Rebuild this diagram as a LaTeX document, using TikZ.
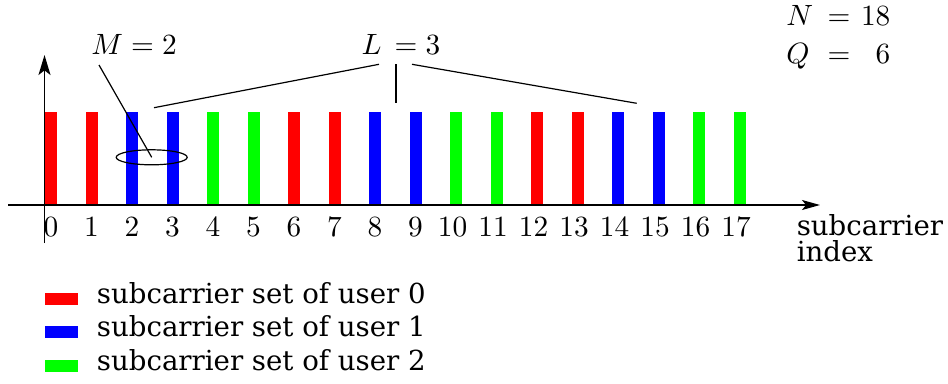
\documentclass[tikz,border=0pt]{standalone}
\usepackage{fontspec}
\usepackage{graphicx}
\newfontfamily\labelfont{DejaVu Serif}
\usetikzlibrary{arrows.meta,shapes.geometric}
\definecolor{userA}{RGB}{255,0,0}
\definecolor{userB}{RGB}{0,0,255}
\definecolor{userC}{RGB}{0,255,0}
% 10pt design size, enlarged, for the heavier strokes of the labels
\newcommand{\numtxt}[1]{\scalebox{2.2}{#1}}
\newcommand{\eqrow}[2]{\makebox[13pt][l]{$#1$}\makebox[9.9pt][c]{$=$}\makebox[12.6pt][r]{$#2$}}
\begin{document}
\begin{tikzpicture}[x=0.75pt,y=-0.75pt,
  axis/.style={line width=1pt},
  leader/.style={line width=0.9pt},
  num/.style={font=\fontsize{10}{12}\selectfont, inner sep=0pt},
  words/.style={font=\labelfont\fontsize{20.7}{20}\selectfont, inner sep=0pt},
  swatch/.style={fill=#1, draw=none}]
\useasboundingbox (0,0) rectangle (948,383);

% subcarrier bars with their index labels
\foreach \i/\c in {0/userA,1/userA,2/userB,3/userB,4/userC,5/userC,
                   6/userA,7/userA,8/userB,9/userB,10/userC,11/userC,
                   12/userA,13/userA,14/userB,15/userB,16/userC,17/userC}{
  \fill[\c] ({45+40.5*\i},112) rectangle ++(12,93);
  \pgfmathsetmacro{\shift}{ifthenelse(\i>9,-3.5,0)}
  \node[num, anchor=base] (n\i) at ({51+40.5*\i+\shift},236) {\numtxt{$\i$}};
}

% axes
\coordinate (xs) at (8,205);
\coordinate (xe) at (820,205);
\coordinate (ys) at (44.5,243);
\coordinate (ye) at (44.5,55);
\draw[axis,-{Stealth[length=13.5pt,width=7.5pt,inset=3pt]}] (xs) -- (xe);
\draw[axis,-{Stealth[length=15pt,width=9pt,inset=3.5pt]}] (ys) -- (ye);

\node[words, anchor=base west] (xlab1) at (796.5,235) {subcarrier};
\node[words, anchor=base west] (xlab2) at (796.5,261.7) {index};

% M = 2 annotation
\node[draw, line width=0.9pt, ellipse, minimum width=53.25pt, minimum height=11.25pt, inner sep=0pt]
  (pair) at (151.7,157.3) {};
\node[num, anchor=base] (mlab) at (134,54) {\numtxt{$M=2$}};
\coordinate (mfoot) at (99,65);
\draw[leader] (mfoot) -- (pair.center);

% L = 3 annotation
\node[num, anchor=base] (llab) at (401,54) {\numtxt{$L\,=3$}};
\coordinate (lA) at (379,64.3);
\coordinate (lB) at (396,64.3);
\coordinate (lC) at (412,64.3);
\coordinate (tA) at (154,107.7);
\coordinate (tB) at (396,102.7);
\coordinate (tC) at (636.7,103.3);
\draw[leader] (lA) -- (tA);
\draw[leader] (lB) -- (tB);
\draw[leader] (lC) -- (tC);

% parameters
\node[num, anchor=base west] (pn) at (786,25) {\numtxt{\eqrow{N}{18}}};
\node[num, anchor=base west] (pq) at (786,63) {\numtxt{\eqrow{Q}{6}}};

% legend
\fill[swatch=userA] (45,293) rectangle ++(33,12);
\fill[swatch=userB] (45,326) rectangle ++(33,12);
\fill[swatch=userC] (45,360) rectangle ++(33,12);
\node[words, anchor=base west] (la) at (96.7,303.3) {subcarrier set of user 0};
\node[words, anchor=base west] (lb) at (96.7,336.7) {subcarrier set of user 1};
\node[words, anchor=base west] (lc) at (96.7,370) {subcarrier set of user 2};
\end{tikzpicture}
\end{document}
